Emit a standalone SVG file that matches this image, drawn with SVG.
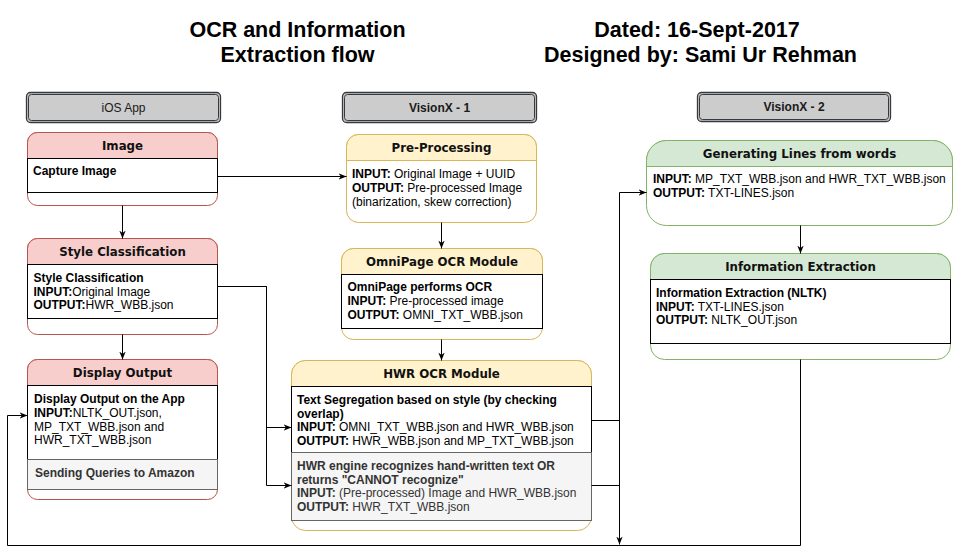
<svg xmlns="http://www.w3.org/2000/svg" width="954" height="555" viewBox="0 0 954 555">
<style>
.big{font-family:"Liberation Sans",Arial,sans-serif;font-weight:bold;font-size:21.5px;fill:#000;text-anchor:middle}
.hdr{fill:#cccccc;stroke:#36393d;stroke-width:1.3}
.hdri{fill:none;stroke:#36393d;stroke-width:1}
.hdrt{font-family:"Liberation Sans",Arial,sans-serif;font-size:12px;fill:#1a1a1a;text-anchor:middle}
.ttl{font-family:"DejaVu Sans",Verdana,sans-serif;font-weight:bold;font-size:11.8px;fill:#111;text-anchor:middle}
.body{font-family:"Liberation Sans",Arial,sans-serif;font-size:12px;fill:#000}
.gray{fill:#333}
.b{font-weight:bold}
.red{fill:#ffffff;stroke:#b85450}
.redh{fill:#f8cecc;stroke:#b85450}
.yel{fill:#ffffff;stroke:#d6b656}
.yelh{fill:#fff2cc;stroke:#d6b656}
.grn{fill:#ffffff;stroke:#82b366}
.grnh{fill:#d5e8d4;stroke:#82b366}
.sec{fill:#ffffff;stroke:#000000}
.sec2{fill:#f5f5f5;stroke:#666666}
.edge{fill:none;stroke:#000;stroke-width:1}
</style>
<defs>
<marker id="arr" viewBox="0 0 10 10" refX="10" refY="5" markerWidth="8" markerHeight="8" markerUnits="userSpaceOnUse" orient="auto">
<path d="M0,1 L10,5 L0,9 L3,5 z" fill="#000"/>
</marker>
</defs>
<rect width="954" height="555" fill="#ffffff"/>

<g id="titles">
<text class="big" x="297.5" y="36.5">OCR and Information</text>
<text class="big" x="297.5" y="61.5">Extraction flow</text>
<text class="big" x="697" y="36.5">Dated: 16-Sept-2017</text>
<text class="big" x="700.5" y="61.5">Designed by: Sami Ur Rehman</text>
</g>

<g id="lane-ios">
<rect class="hdr" x="26.5" y="92.5" width="194" height="30" rx="4"/>
<rect class="hdri" x="28.5" y="94.5" width="190" height="26" rx="3"/>
<text class="hdrt" x="123.5" y="111.7">iOS App</text>
</g>
<g id="lane-vx1">
<rect class="hdr" x="342.5" y="92.5" width="194" height="30" rx="4"/>
<rect class="hdri" x="344.5" y="94.5" width="190" height="26" rx="3"/>
<text class="hdrt b" x="439.5" y="111.7">VisionX - 1</text>
</g>
<g id="lane-vx2">
<rect class="hdr" x="697.5" y="92.5" width="193" height="29" rx="4"/>
<rect class="hdri" x="699.5" y="94.5" width="189" height="25" rx="3"/>
<text class="hdrt b" x="794" y="111">VisionX - 2</text>
</g>

<g id="node-image">
<rect class="red" x="27.5" y="132.5" width="190" height="73" rx="10"/>
<path class="redh" d="M27.5,158.5 V142.5 A10,10 0 0 1 37.5,132.5 H207.5 A10,10 0 0 1 217.5,142.5 V158.5 Z"/>
<rect class="sec" x="27.5" y="158.5" width="190" height="34"/>
<text class="ttl" x="122.5" y="150">Image</text>
<text class="body b" x="33" y="175">Capture Image</text>
</g>

<g id="node-style">
<rect class="red" x="27.5" y="238.5" width="190" height="96" rx="10"/>
<path class="redh" d="M27.5,264.5 V248.5 A10,10 0 0 1 37.5,238.5 H207.5 A10,10 0 0 1 217.5,248.5 V264.5 Z"/>
<rect class="sec" x="27.5" y="264.5" width="190" height="54"/>
<text class="ttl" x="122.5" y="256">Style Classification</text>
<text class="body" x="33.5" y="282"><tspan class="b">Style Classification</tspan><tspan x="33.5" dy="13.6" class="b">INPUT:</tspan><tspan>Original Image</tspan><tspan x="33.5" dy="13.6" class="b">OUTPUT:</tspan><tspan>HWR_WBB.json</tspan></text>
</g>

<g id="node-display">
<rect class="red" x="27.5" y="359.5" width="190" height="140" rx="10"/>
<path class="redh" d="M27.5,385.5 V369.5 A10,10 0 0 1 37.5,359.5 H207.5 A10,10 0 0 1 217.5,369.5 V385.5 Z"/>
<rect class="sec" x="27.5" y="385.5" width="190" height="74"/>
<rect class="sec2" x="27.5" y="459.5" width="190" height="30"/>
<text class="ttl" x="122.5" y="377">Display Output</text>
<text class="body" x="34" y="403"><tspan class="b">Display Output on the App</tspan><tspan x="34" dy="13.8" class="b">INPUT:</tspan><tspan>NLTK_OUT.json,</tspan><tspan x="34" dy="13.8">MP_TXT_WBB.json and</tspan><tspan x="34" dy="13.8">HWR_TXT_WBB.json</tspan></text>
<text class="body b gray" x="35" y="477">Sending Queries to Amazon</text>
</g>

<g id="node-preprocessing">
<rect class="yel" x="346.5" y="134.5" width="190" height="88" rx="12"/>
<path class="yelh" d="M346.5,160.5 V146.5 A12,12 0 0 1 358.5,134.5 H524.5 A12,12 0 0 1 536.5,146.5 V160.5 Z"/>
<text class="ttl" x="441.5" y="152">Pre-Processing</text>
<text class="body" x="352" y="178"><tspan class="b">INPUT:</tspan><tspan> Original Image + UUID</tspan><tspan x="352" dy="13.8" class="b">OUTPUT:</tspan><tspan> Pre-processed Image</tspan><tspan x="352" dy="13.8">(binarization, skew correction)</tspan></text>
</g>

<g id="node-omnipage">
<rect class="yel" x="341.5" y="248.5" width="201" height="91" rx="12"/>
<path class="yelh" d="M341.5,274.5 V260.5 A12,12 0 0 1 353.5,248.5 H530.5 A12,12 0 0 1 542.5,260.5 V274.5 Z"/>
<rect class="sec" x="341.5" y="274.5" width="201" height="54"/>
<text class="ttl" x="442" y="266">OmniPage OCR Module</text>
<text class="body" x="347.5" y="291"><tspan class="b">OmniPage performs OCR</tspan><tspan x="347.5" dy="14" class="b">INPUT:</tspan><tspan> Pre-processed image</tspan><tspan x="347.5" dy="14" class="b">OUTPUT:</tspan><tspan> OMNI_TXT_WBB.json</tspan></text>
</g>

<g id="node-hwr">
<rect class="yel" x="291.5" y="360.5" width="300" height="170" rx="14"/>
<path class="yelh" d="M291.5,386.5 V374.5 A14,14 0 0 1 305.5,360.5 H577.5 A14,14 0 0 1 591.5,374.5 V386.5 Z"/>
<rect class="sec" x="291.5" y="386.5" width="300" height="66"/>
<rect class="sec2" x="291.5" y="452.5" width="300" height="68"/>
<text class="ttl" x="441.5" y="378">HWR OCR Module</text>
<text class="body" x="297" y="404"><tspan class="b">Text Segregation based on style (by checking</tspan><tspan x="297" dy="13.7" class="b">overlap)</tspan><tspan x="297" dy="13.7" class="b">INPUT:</tspan><tspan> OMNI_TXT_WBB.json and HWR_WBB.json</tspan><tspan x="297" dy="13.7" class="b">OUTPUT:</tspan><tspan> HWR_WBB.json and MP_TXT_WBB.json</tspan></text>
<text class="body gray" x="297" y="470"><tspan class="b">HWR engine recognizes hand-written text OR</tspan><tspan x="297" dy="13.6" class="b">returns "CANNOT recognize"</tspan><tspan x="297" dy="13.6" class="b">INPUT:</tspan><tspan> (Pre-processed) Image and HWR_WBB.json</tspan><tspan x="297" dy="13.6" class="b">OUTPUT:</tspan><tspan> HWR_TXT_WBB.json</tspan></text>
</g>

<g id="node-lines">
<rect class="grn" x="646.5" y="140.5" width="306" height="85" rx="20"/>
<path class="grnh" d="M646.5,166.5 V160.5 A20,20 0 0 1 666.5,140.5 H932.5 A20,20 0 0 1 952.5,160.5 V166.5 Z"/>
<text class="ttl" x="799.5" y="158">Generating Lines from words</text>
<text class="body" x="653" y="182.5"><tspan class="b">INPUT:</tspan><tspan> MP_TXT_WBB.json and HWR_TXT_WBB.json</tspan><tspan x="653" dy="14" class="b">OUTPUT:</tspan><tspan> TXT-LINES.json</tspan></text>
</g>

<g id="node-extraction">
<rect class="grn" x="650.5" y="253.5" width="300" height="106" rx="14"/>
<path class="grnh" d="M650.5,279.5 V267.5 A14,14 0 0 1 664.5,253.5 H936.5 A14,14 0 0 1 950.5,267.5 V279.5 Z"/>
<rect class="sec" x="650.5" y="279.5" width="300" height="64"/>
<text class="ttl" x="800.5" y="271">Information Extraction</text>
<text class="body" x="656" y="296.8"><tspan class="b">Information Extraction (NLTK)</tspan><tspan x="656" dy="13.8" class="b">INPUT:</tspan><tspan> TXT-LINES.json</tspan><tspan x="656" dy="13.8" class="b">OUTPUT:</tspan><tspan> NLTK_OUT.json</tspan></text>
</g>

<g id="connectors">
<path class="edge" d="M217.5,176.5 H346.5" marker-end="url(#arr)"/>
<path class="edge" d="M122.5,205.5 V238.5" marker-end="url(#arr)"/>
<path class="edge" d="M122.5,334.5 V359.5" marker-end="url(#arr)"/>
<path class="edge" d="M217.5,286.5 H266.5 V427.5 H291.5" marker-end="url(#arr)"/>
<path class="edge" d="M217.5,286.5 H266.5 V485.5 H291.5" marker-end="url(#arr)"/>
<path class="edge" d="M441.5,222.5 V248.5" marker-end="url(#arr)"/>
<path class="edge" d="M441.5,339.5 V360.5" marker-end="url(#arr)"/>
<path class="edge" d="M591.5,485.5 H619.5 V192.5 H646.5" marker-end="url(#arr)"/>
<path class="edge" d="M591.5,420.5 H619.5 V544.5" marker-end="url(#arr)"/>
<path class="edge" d="M800.5,225.5 V253.5" marker-end="url(#arr)"/>
<path class="edge" d="M800.5,359.5 V545.5 H7.5 V415.5 H27.5" marker-end="url(#arr)"/>
</g>
</svg>
